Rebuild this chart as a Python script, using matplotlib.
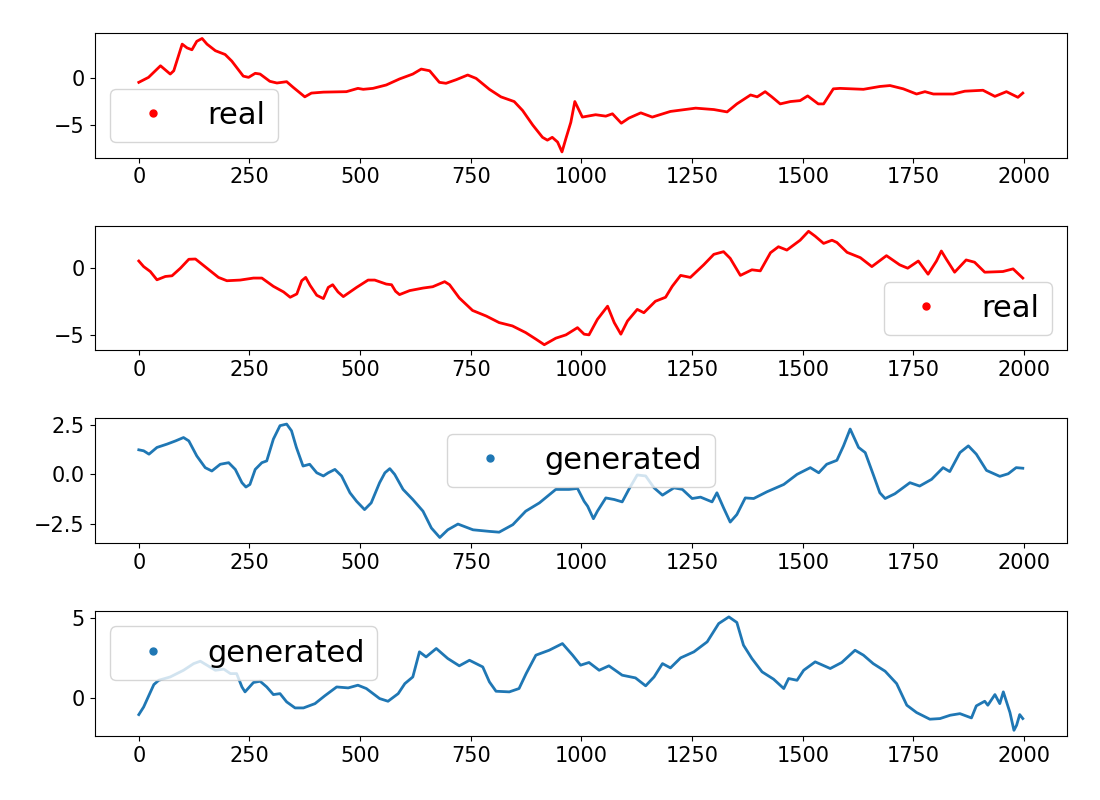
import matplotlib
matplotlib.use("Agg")
import matplotlib.pyplot as plt
from matplotlib.lines import Line2D

# values, (step, value)
real1_x = [0, 22, 49, 71, 79, 98, 109, 120, 131, 143, 154, 173, 195, 210, 236, 248, 263, 274,
           296, 312, 334, 349, 375, 390, 417, 469, 495, 507, 529, 559, 589, 619, 638, 657, 679,
           694, 717, 743, 762, 792, 818, 848, 867, 890, 912, 923, 934, 946, 956, 965, 976, 985,
           1002, 1032, 1055, 1070, 1090, 1107, 1134, 1160, 1201, 1258, 1299, 1329, 1351, 1382,
           1397, 1415, 1430, 1449, 1472, 1494, 1511, 1535, 1547, 1569, 1584, 1637, 1674, 1697,
           1727, 1757, 1776, 1795, 1840, 1866, 1907, 1934, 1960, 1986, 1997]
real1_y = [-0.46, 0.07, 1.3, 0.42, 0.77, 3.6, 3.2, 3.0, 3.9, 4.2, 3.6, 2.9, 2.5, 1.8, 0.2, 0.07,
           0.5, 0.42, -0.35, -0.53, -0.39, -1.0, -2.0, -1.6, -1.5, -1.45, -1.1, -1.2, -1.1, -0.74,
           -0.1, 0.42, 0.95, 0.77, -0.46, -0.56, -0.18, 0.32, -0.04, -1.2, -2.0, -2.5, -3.45,
           -5.0, -6.3, -6.6, -6.3, -6.8, -7.85, -6.4, -4.7, -2.5, -4.15, -3.9, -4.05, -3.8, -4.8,
           -4.26, -3.7, -4.15, -3.55, -3.2, -3.35, -3.6, -2.75, -1.8, -2.0, -1.45, -2.0, -2.75,
           -2.5, -2.4, -1.9, -2.75, -2.75, -1.15, -1.1, -1.2, -0.9, -0.8, -1.15, -1.7, -1.45,
           -1.7, -1.7, -1.4, -1.3, -1.95, -1.45, -2.05, -1.6]

real2_x = [0, 11, 26, 41, 60, 75, 94, 113, 128, 154, 180, 199, 229, 259, 278, 304, 327, 342,
           357, 368, 377, 387, 402, 417, 428, 438, 450, 462, 492, 518, 533, 559, 571, 580, 589,
           612, 642, 664, 691, 702, 724, 754, 785, 814, 844, 874, 897, 916, 942, 965, 991, 1006,
           1017, 1036, 1059, 1074, 1089, 1104, 1126, 1141, 1167, 1190, 1205, 1224, 1246, 1276,
           1299, 1321, 1336, 1359, 1385, 1404, 1427, 1445, 1464, 1494, 1513, 1528, 1547, 1566,
           1577, 1600, 1630, 1656, 1689, 1719, 1737, 1761, 1783, 1802, 1813, 1824, 1843, 1869,
           1888, 1911, 1952, 1975, 1997]
real2_y = [0.54, 0.12, -0.25, -0.87, -0.62, -0.57, 0.0, 0.67, 0.69, 0.0, -0.69, -0.94, -0.89,
           -0.74, -0.74, -1.36, -1.78, -2.18, -1.93, -0.94, -0.69, -1.29, -2.03, -2.28, -1.44,
           -1.24, -1.78, -2.13, -1.44, -0.89, -0.89, -1.19, -1.24, -1.73, -1.98, -1.68, -1.49,
           -1.39, -1.01, -1.24, -2.23, -3.17, -3.59, -4.08, -4.33, -4.83, -5.32, -5.74, -5.25,
           -5.0, -4.46, -4.95, -5.0, -3.84, -2.85, -4.08, -4.95, -3.96, -3.09, -3.34, -2.48,
           -2.18, -1.36, -0.54, -0.69, 0.25, 1.04, 1.24, 0.74, -0.54, -0.12, -0.2, 1.16, 1.61,
           1.36, 2.1, 2.77, 2.4, 1.86, 2.1, 1.93, 1.19, 0.79, 0.12, 0.94, 0.25, 0.0, 0.54,
           -0.45, 0.54, 1.29, 0.69, -0.3, 0.62, 0.45, -0.3, -0.25, -0.05, -0.74]

gen1_x = [0, 11, 23, 41, 64, 83, 101, 113, 131, 150, 165, 184, 203, 218, 233, 242, 251, 263,
          278, 289, 304, 319, 334, 345, 356, 371, 386, 402, 417, 428, 443, 458, 477, 492, 510,
          525, 544, 556, 567, 578, 597, 619, 642, 661, 680, 698, 721, 755, 792, 814, 845, 874,
          905, 942, 972, 991, 1006, 1014, 1027, 1036, 1055, 1074, 1092, 1107, 1126, 1145, 1164,
          1183, 1209, 1228, 1250, 1269, 1295, 1306, 1321, 1336, 1351, 1370, 1389, 1419, 1457,
          1487, 1517, 1536, 1554, 1577, 1592, 1607, 1626, 1641, 1659, 1674, 1686, 1708, 1742,
          1764, 1791, 1817, 1832, 1855, 1874, 1892, 1915, 1945, 1964, 1982, 1997]
gen1_y = [1.24, 1.19, 1.02, 1.36, 1.53, 1.69, 1.86, 1.69, 0.93, 0.34, 0.17, 0.51, 0.59, 0.25,
          -0.42, -0.64, -0.51, 0.25, 0.59, 0.68, 1.78, 2.46, 2.54, 2.2, 1.36, 0.42, 0.51, 0.08,
          -0.08, 0.08, 0.25, -0.08, -0.93, -1.36, -1.78, -1.44, -0.42, 0.08, 0.29, 0.0, -0.76,
          -1.27, -1.86, -2.71, -3.19, -2.8, -2.51, -2.8, -2.88, -2.92, -2.54, -1.86, -1.44,
          -0.76, -0.76, -0.71, -1.36, -1.61, -2.24, -1.86, -1.19, -1.27, -1.39, -0.76, -0.03,
          -0.08, -0.68, -1.05, -0.68, -0.76, -1.22, -1.15, -1.39, -0.93, -1.69, -2.41, -2.03,
          -1.19, -1.22, -0.88, -0.51, 0.0, 0.34, 0.08, 0.51, 0.71, 1.44, 2.29, 1.36, 1.1, 0.0,
          -0.93, -1.22, -0.98, -0.42, -0.59, -0.25, 0.34, 0.14, 1.1, 1.44, 1.02, 0.2, -0.1,
          0.03, 0.34, 0.31]

gen2_x = [0, 11, 23, 34, 45, 71, 101, 124, 139, 154, 173, 192, 207, 221, 233, 240, 259, 274,
          289, 304, 319, 334, 353, 372, 398, 420, 447, 473, 495, 514, 544, 563, 586, 601, 619,
          623, 634, 649, 672, 698, 724, 747, 777, 792, 807, 837, 859, 875, 897, 927, 957, 980,
          998, 1017, 1040, 1062, 1092, 1122, 1145, 1164, 1183, 1201, 1224, 1254, 1284, 1310,
          1333, 1351, 1366, 1385, 1408, 1434, 1457, 1468, 1487, 1502, 1528, 1562, 1588, 1618,
          1637, 1659, 1686, 1712, 1735, 1757, 1787, 1810, 1833, 1855, 1881, 1892, 1911, 1918,
          1934, 1945, 1953, 1968, 1977, 1983, 1990, 1997]
gen2_y = [-1.05, -0.57, 0.17, 0.84, 1.11, 1.32, 1.74, 2.16, 2.31, 2.06, 1.74, 1.81, 1.53, 1.53,
          0.69, 0.38, 0.97, 1.05, 0.69, 0.21, 0.27, -0.25, -0.63, -0.63, -0.36, 0.13, 0.69,
          0.63, 0.8, 0.59, -0.04, -0.21, 0.27, 0.9, 1.32, 1.74, 2.9, 2.58, 3.11, 2.48, 2.02,
          2.37, 1.95, 1.01, 0.42, 0.38, 0.59, 1.53, 2.69, 3.0, 3.42, 2.69, 2.06, 2.23, 1.74,
          2.02, 1.43, 1.26, 0.76, 1.32, 2.16, 1.89, 2.52, 2.9, 3.53, 4.68, 5.1, 4.75, 3.32,
          2.48, 1.64, 1.18, 0.59, 1.22, 1.11, 1.74, 2.27, 1.85, 2.23, 3.0, 2.69, 2.16, 1.68,
          0.9, -0.46, -0.92, -1.34, -1.3, -1.09, -0.99, -1.26, -0.5, -0.21, -0.46, 0.21, -0.36,
          0.38, -0.92, -2.04, -1.72, -1.05, -1.3]

panels = [(real1_x, real1_y, "red", "real", "lower left"),
          (real2_x, real2_y, "red", "real", "lower right"),
          (gen1_x, gen1_y, "#1f77b4", "generated", "upper center"),
          (gen2_x, gen2_y, "#1f77b4", "generated", "upper left")]

fig, axes = plt.subplots(4, 1, figsize=(11, 8), dpi=100)
fig.subplots_adjust(left=0.086, right=0.97, top=0.959, bottom=0.08, hspace=0.545)

for ax, (xs, ys, col, name, loc) in zip(axes, panels):
    ax.plot(xs, ys, color=col, lw=2.0)
    ax.set_xticks([0, 250, 500, 750, 1000, 1250, 1500, 1750, 2000])
    ax.tick_params(labelsize=15)
    handle = Line2D([], [], marker="o", ls="", ms=5, color=col)
    ax.legend([handle], [name], loc=loc, fontsize=22)

plt.savefig("out.png")
